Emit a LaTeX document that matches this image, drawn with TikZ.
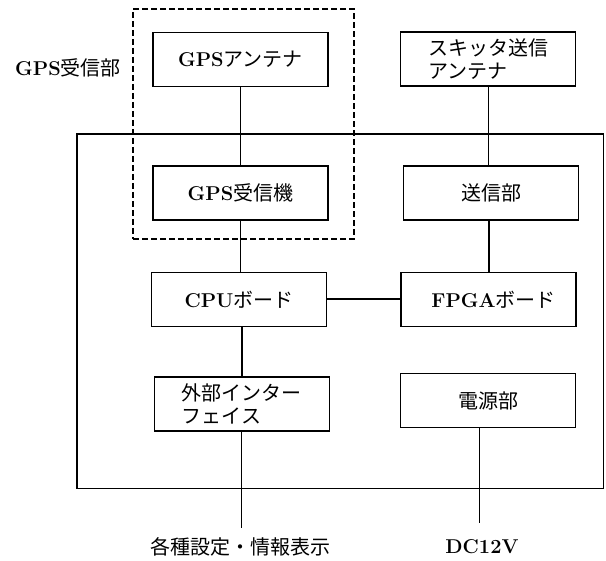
\documentclass[tikz,border=0pt]{standalone}
\usepackage{fontspec}
\newfontfamily\cjkfont{Noto Sans CJK JP}
\newcommand\jp[1]{{\mdseries\cjkfont #1}}
\newcommand\txtfont{\fontsize{20}{23.5}\selectfont\bfseries}
\begin{document}
\begin{tikzpicture}[x=1pt,y=-1pt,
  box/.style={draw, line width=1.1pt, inner sep=0pt, minimum width=175pt, minimum height=54pt, font=\txtfont},
  framebox/.style={draw, line width=1.1pt, inner sep=0pt, minimum width=526.5pt, minimum height=354.5pt},
  groupbox/.style={draw, line width=1.8pt, dash pattern=on 6pt off 3pt, inner sep=0pt, minimum width=221pt, minimum height=230pt},
  lbl/.style={inner sep=0pt, font=\txtfont},
  thinline/.style={line width=0.8pt},
  thickline/.style={line width=2pt}]
\useasboundingbox (0,0) rectangle (606,561);
% outer frame and GPS group
\node[framebox] (frame) at (340.25,311.25) {};
\node[groupbox] (gpsgroup) at (243.5,124) {};
% boxes
\node[box] (gpsant) at (240.5,59.5) {GPS\jp{アンテナ}};
\node[box] (gpsrx) at (240.5,193) {GPS\jp{受信機}};
\node[box, align=left] (skant) at (488,59) {\jp{スキッタ送信}\\\jp{アンテナ}};
\node[box] (tx) at (491,193) {\jp{送信部}};
\node[box] (cpu) at (239,299.5) {CPU\jp{ボード}};
\node[box] (fpga) at (488.5,299.5) {\hspace{10pt}FPGA\jp{ボード}};
\node[box, align=left] (ext) at (241.7,404) {\jp{外部インター}\\\jp{フェイス}};
\node[box] (pwr) at (488,400.5) {\jp{電源部}};
% labels
\node[lbl] (gpslbl) at (68,68) {GPS\jp{受信部}};
\node[lbl] (setlbl) at (240.5,546.7) {\jp{各種設定・情報表示}};
\node[lbl] (dclbl) at (482,546.7) {DC12V};
% free ends
\coordinate (extend) at (241.7,528);
\coordinate (pwrend) at (479,523);
% connectors
\draw[thinline] (gpsant.south) -- (gpsrx.north);
\draw[thinline] (gpsrx.south) -- (gpsrx.south |- cpu.north);
\draw[thinline] (skant.south) -- (skant.south |- tx.north);
\draw[thickline] (fpga.north) -- (fpga.north |- tx.south);
\draw[thickline] (cpu.east) -- (fpga.west);
\draw[thickline] (ext.north) -- (ext.north |- cpu.south);
\draw[thinline] (ext.south) -- (extend);
\draw[thinline] (pwrend |- pwr.south) -- (pwrend);
\end{tikzpicture}
\end{document}
